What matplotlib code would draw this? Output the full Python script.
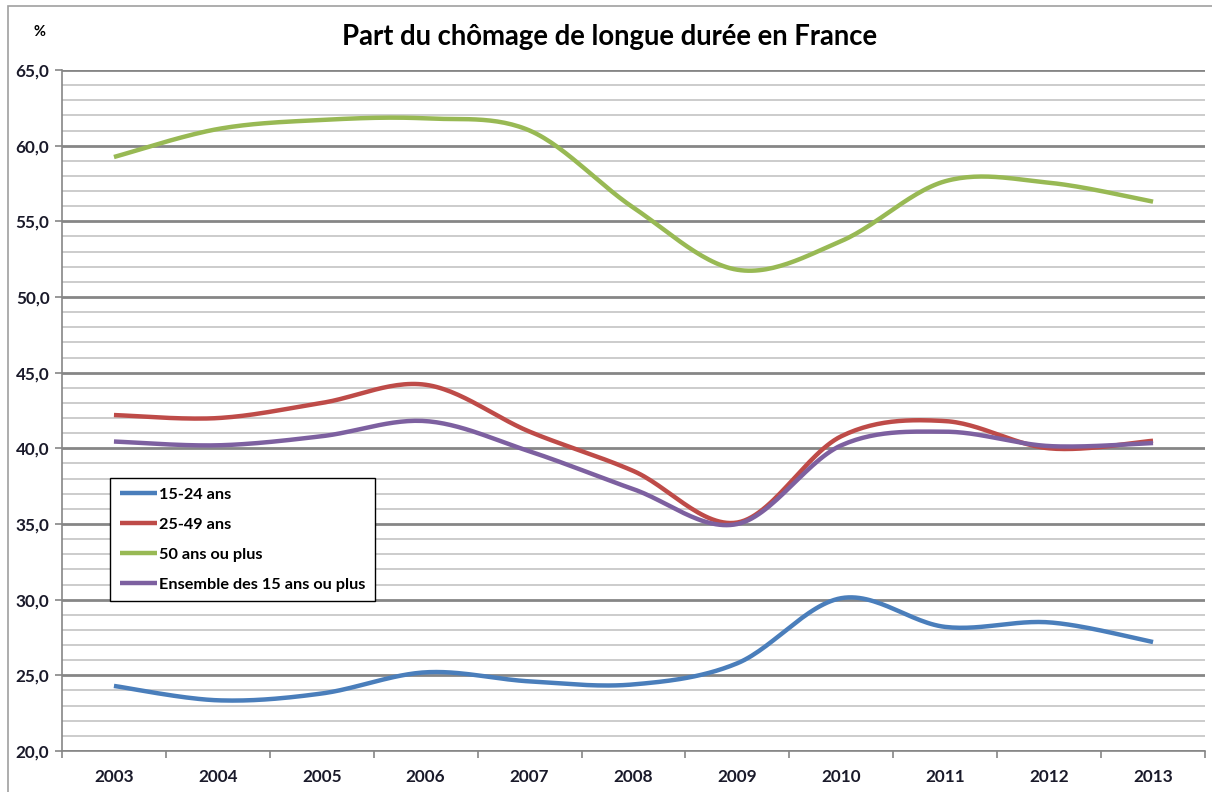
import numpy as np
import matplotlib
matplotlib.use('Agg')
import matplotlib.pyplot as plt
from matplotlib.patches import Rectangle
from matplotlib.ticker import MultipleLocator, FuncFormatter

# données
years = [2003, 2004, 2005, 2006, 2007, 2008, 2009, 2010, 2011, 2012, 2013]
jeunes = [24.3, 23.35, 23.8, 25.2, 24.6, 24.4, 25.8, 30.1, 28.2, 28.5, 27.2]
adultes = [42.2, 42.0, 43.0, 44.2, 41.1, 38.5, 35.1, 40.8, 41.8, 40.0, 40.5]
seniors = [59.25, 61.1, 61.7, 61.8, 61.0, 55.9, 51.8, 53.7, 57.65, 57.55, 56.3]
ensemble = [40.45, 40.2, 40.8, 41.8, 39.8, 37.3, 35.0, 40.2, 41.1, 40.15, 40.35]

series = [
    ('15-24 ans', jeunes, '#4a7ebb'),
    ('25-49 ans', adultes, '#be4b48'),
    ('50 ans ou plus', seniors, '#98b954'),
    ('Ensemble des 15 ans ou plus', ensemble, '#7d60a0'),
]

FONT = 'Lato'


def smooth(xs, ys, n=30):
    """courbe lissée façon Excel (Bézier type Catmull-Rom)"""
    xs = np.asarray(xs, float)
    ys = np.asarray(ys, float)
    px = np.concatenate([[xs[0]], xs, [xs[-1]]])
    py = np.concatenate([[ys[0]], ys, [ys[-1]]])
    out_x, out_y = [], []
    t = np.linspace(0, 1, n)
    for i in range(1, len(xs)):
        p0 = np.array([xs[i - 1], ys[i - 1]])
        p3 = np.array([xs[i], ys[i]])
        p1 = p0 + (np.array([px[i + 1], py[i + 1]]) - np.array([px[i - 1], py[i - 1]])) / 6
        p2 = p3 - (np.array([px[i + 2], py[i + 2]]) - np.array([px[i], py[i]])) / 6
        b = ((1 - t) ** 3)[:, None] * p0 + (3 * (1 - t) ** 2 * t)[:, None] * p1 \
            + (3 * (1 - t) * t ** 2)[:, None] * p2 + (t ** 3)[:, None] * p3
        out_x.extend(b[:, 0])
        out_y.extend(b[:, 1])
    return np.array(out_x), np.array(out_y)


fig = plt.figure(figsize=(12.12, 7.92), dpi=100)
ax = fig.add_axes([62 / 1212, 1 - 751 / 792, (1205 - 62) / 1212, (751 - 70) / 792])

# cadre extérieur du graphique
fig.patches.append(Rectangle((8 / 1212, -0.05), 1.1, 1 - 6 / 792 + 0.05,
                             transform=fig.transFigure, fill=False,
                             edgecolor='#a0a0a0', linewidth=1.2))

pos = np.arange(len(years))
for label, vals, color in series:
    sx, sy = smooth(pos, vals)
    ax.plot(sx, sy, color=color, linewidth=3.2, label=label,
            solid_capstyle='butt', zorder=3)

ax.set_xlim(-0.5, len(years) - 0.5)
ax.set_ylim(20, 65)

# grille : majeure tous les 5, mineure tous les 1
ax.yaxis.set_major_locator(MultipleLocator(5))
ax.yaxis.set_minor_locator(MultipleLocator(1))
ax.grid(which='major', axis='y', color='#868686', linewidth=2.0, zorder=1)
ax.grid(which='minor', axis='y', color='#c8c8c8', linewidth=1.3, zorder=0)
ax.yaxis.set_major_formatter(FuncFormatter(lambda v, p: f'{v:.1f}'.replace('.', ',')))

ax.set_xticks(pos)
ax.set_xticklabels([str(y) for y in years])
ax.set_xticks(np.arange(-0.5, len(years), 1), minor=True)
ax.tick_params(axis='x', which='major', length=0, pad=13)
ax.tick_params(axis='x', which='minor', length=5, color='#868686', width=1.2)
ax.tick_params(axis='y', which='major', length=5, color='#868686', width=1.2, pad=4)
ax.tick_params(axis='y', which='minor', length=0)

for lab in ax.get_xticklabels() + ax.get_yticklabels():
    lab.set_fontfamily(FONT)
    lab.set_fontweight('bold')
    lab.set_fontsize(12.3)
    lab.set_color('#1a1a2a')

for side in ['top', 'right']:
    ax.spines[side].set_visible(False)
for side in ['left', 'bottom']:
    ax.spines[side].set_color('#868686')
    ax.spines[side].set_linewidth(1.2)

fig.text(610 / 1212, 1 - 37 / 792, 'Part du chômage de longue durée en France',
         ha='center', va='center', fontsize=19.8, fontweight='bold', family=FONT)
fig.text(40 / 1212, 1 - 32 / 792, '%', ha='center', va='center',
         fontsize=10.5, fontweight='bold', family=FONT)

leg = ax.legend(loc='upper left', bbox_to_anchor=((110 - 62) / 1143, (751 - 478) / 681),
                borderaxespad=0, frameon=True, fancybox=False, handlelength=2.3,
                handletextpad=0.1, labelspacing=0.95, borderpad=0.6,
                prop={'family': FONT, 'weight': 'bold', 'size': 11.7})
leg.get_frame().set_edgecolor('black')
leg.get_frame().set_linewidth(1.0)
leg.get_frame().set_alpha(1)
leg.set_zorder(5)

fig.savefig('out.png', dpi=100)
